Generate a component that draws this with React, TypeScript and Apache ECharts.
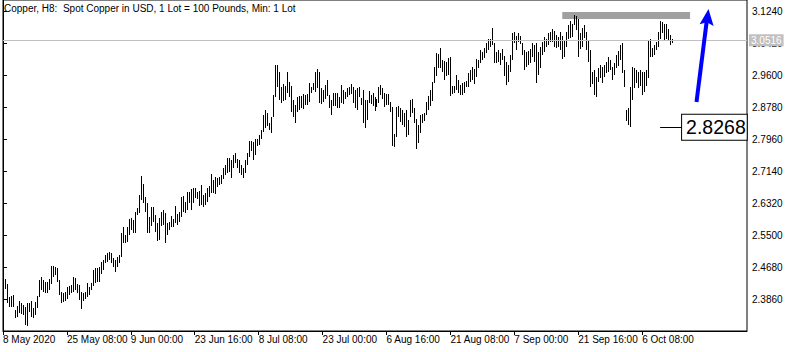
import React, { useEffect, useRef } from "react";
import * as echarts from "echarts";

const FONT = "'Liberation Sans', Arial, sans-serif";

const chartTitle = "Copper, H8:  Spot Copper in USD, 1 Lot = 100 Pounds, Min: 1 Lot";

// time labels, one every 32 H8 bars
const timeLabels = [
  "8 May 2020", "25 May 08:00", "9 Jun 00:00", "23 Jun 16:00", "8 Jul 08:00",
  "23 Jul 00:00", "6 Aug 16:00", "21 Aug 08:00", "7 Sep 00:00", "21 Sep 16:00", "6 Oct 08:00",
];
const barsPerLabel = 32;

const priceTicks = [2.386, 2.468, 2.55, 2.632, 2.714, 2.796, 2.878, 2.96, 3.042, 3.124];

// H8 bar highs
const barHigh = [
  2.4378, 2.4249, 2.3925, 2.3942, 2.3967, 2.3583, 2.3685, 2.3822, 2.3754, 2.3711,
  2.3668, 2.3754, 2.3771, 2.3822, 2.3625, 2.3796, 2.3942, 2.4352, 2.4438, 2.4352,
  2.4309, 2.4309, 2.4386, 2.4711, 2.4711, 2.4677, 2.4651, 2.4352, 2.4053, 2.4027,
  2.4053, 2.4164, 2.4198, 2.4224, 2.4420, 2.4395, 2.4249, 2.4224, 2.4053, 2.4027,
  2.4053, 2.4267, 2.4164, 2.4267, 2.4609, 2.4651, 2.4651, 2.4677, 2.4822, 2.4865,
  2.4993, 2.5053, 2.5079, 2.5053, 2.4908, 2.4865, 2.4951, 2.4993, 2.5566, 2.5720,
  2.5506, 2.5720, 2.5908, 2.5934, 2.5891, 2.6105, 2.6190, 2.6532,
  2.7021, 2.6815, 2.6491, 2.6320, 2.5978, 2.6234, 2.6234, 2.6020, 2.5824, 2.5935,
  2.6106, 2.6149, 2.6063, 2.5807, 2.5849, 2.5995, 2.5926, 2.6251, 2.6046, 2.6097,
  2.6491, 2.6508, 2.6362, 2.6619, 2.6619, 2.6679, 2.6704, 2.6704, 2.6619, 2.6644,
  2.6781, 2.6533, 2.6576, 2.6721, 2.6764, 2.7072, 2.6918, 2.6986, 2.6961, 2.6986,
  2.7046, 2.7217, 2.7303, 2.7474, 2.7474, 2.7431, 2.7559, 2.7602, 2.7448, 2.7431,
  2.7303, 2.7217, 2.7431, 2.7602, 2.7910, 2.7927, 2.7901, 2.7961, 2.7961, 2.8072,
  2.8201, 2.8585, 2.8714, 2.8645, 2.8389, 2.8525, 2.9098, 2.9868, 2.9868, 2.9697,
  2.9295, 2.9380, 2.9329, 2.9697, 2.9440,
  2.9329, 2.8970, 2.8842, 2.9056, 2.9073, 2.9073, 2.9124, 2.9098, 2.9124, 2.9398,
  2.9312, 2.9398, 2.9680, 2.9765, 2.9697, 2.9269, 2.9227, 2.9355, 2.9483, 2.9098,
  2.8970, 2.9158, 2.9158, 2.9141, 2.9056, 2.9355, 2.9227, 2.9184, 2.9269, 2.9312,
  2.9380, 2.9312, 2.9227, 2.9269, 2.9295, 2.9013, 2.9227, 2.8970, 2.8970, 2.9209,
  2.9098, 2.9141, 2.9038, 2.8987, 2.9312, 2.9355, 2.9269, 2.9141, 2.9124, 2.9124,
  2.8927, 2.8799, 2.8098, 2.8799, 2.8816, 2.8756, 2.8714, 2.8628, 2.8714, 2.8457,
  2.8970, 2.8987, 2.8756, 2.8474, 2.8329, 2.8585, 2.8611, 2.8645, 2.8927, 2.9073,
  2.9227, 2.9440, 2.9808, 3.0167, 3.0150,
  3.0295, 2.9996, 2.9979, 2.9953, 3.0039, 3.0064, 2.9329, 2.9329, 2.9611, 2.9483,
  2.9355, 2.9398, 2.9440, 2.9466, 2.9654, 2.9740, 2.9808, 2.9757, 3.0013, 2.9996,
  3.0253, 3.0210, 3.0295, 3.0424, 3.0526, 3.0526, 3.0808, 3.0424, 3.0210, 3.0253,
  3.0167, 3.0270, 3.0099, 2.9953, 2.9868, 3.0124, 3.0680, 3.0723, 3.0612, 3.0697,
  3.0612, 3.0424, 3.0253, 3.0210, 3.0235, 3.0270, 3.0441, 3.0381, 3.0441, 3.0210,
  3.0338, 3.0466, 3.0577, 3.0526, 3.0680, 3.0723, 3.0783, 3.0748, 3.0637, 3.0577,
  3.0723, 3.0612, 3.0509, 3.0723, 3.0894, 3.1005, 3.0919, 3.1150, 3.1125, 3.1039,
  3.0680, 3.0808, 3.0894, 3.0723, 3.0509, 3.0253, 2.9697, 2.9740, 2.9569, 2.9782,
  2.9868, 2.9825, 2.9868, 2.9953, 3.0064, 2.9996, 2.9825, 2.9928, 3.0124, 3.0235,
  3.0381, 3.0424, 2.9740, 2.8714, 2.8756, 2.9312, 2.9825, 2.9782, 2.9740, 2.9697,
  2.9740, 2.9697, 2.9697, 2.9740, 3.0509, 3.0526, 3.0295, 3.0381, 3.0466, 3.0723,
  3.1005, 3.0979, 3.0919, 3.0919, 3.0783, 3.0637, 3.0526,
];

// H8 bar lows
const barLow = [
  2.4113, 2.3754, 2.3668, 2.3668, 2.3668, 2.3369, 2.3412, 2.3497, 2.3480, 2.3454,
  2.3198, 2.3181, 2.3540, 2.3412, 2.3369, 2.3454, 2.3642, 2.3925, 2.4096, 2.4053,
  2.4027, 2.4010, 2.4096, 2.4249, 2.4438, 2.4480, 2.4309, 2.3967, 2.3754, 2.3796,
  2.3822, 2.3856, 2.3967, 2.4010, 2.4053, 2.4096, 2.4010, 2.3839, 2.3600, 2.3822,
  2.3856, 2.3907, 2.3967, 2.4096, 2.4198, 2.4284, 2.4309, 2.4309, 2.4506, 2.4609,
  2.4780, 2.4822, 2.4865, 2.4797, 2.4677, 2.4566, 2.4694, 2.4797, 2.4933, 2.5293,
  2.5310, 2.5335, 2.5506, 2.5635, 2.5566, 2.5549, 2.6019, 2.6062,
  2.6405, 2.6320, 2.6106, 2.5567, 2.5567, 2.5738, 2.5849, 2.5593, 2.5362, 2.5379,
  2.5738, 2.5764, 2.5294, 2.5507, 2.5636, 2.5721, 2.5704, 2.5807, 2.5772, 2.5849,
  2.5978, 2.6106, 2.6063, 2.6149, 2.6320, 2.6149, 2.6337, 2.6448, 2.6422, 2.6251,
  2.6277, 2.6234, 2.6277, 2.6362, 2.6473, 2.6593, 2.6576, 2.6559, 2.6747, 2.6790,
  2.6815, 2.6935, 2.7046, 2.7089, 2.7132, 2.6961, 2.7217, 2.7346, 2.7217, 2.7089,
  2.7046, 2.6961, 2.7106, 2.7303, 2.7517, 2.7670, 2.7431, 2.7559, 2.7790, 2.7816,
  2.7961, 2.8158, 2.8243, 2.8303, 2.8201, 2.8132, 2.8543, 2.9056, 2.9312, 2.8970,
  2.8902, 2.8953, 2.8970, 2.9141, 2.9038,
  2.8671, 2.8525, 2.8389, 2.8671, 2.8714, 2.8756, 2.8731, 2.8842, 2.8842, 2.8927,
  2.9141, 2.9227, 2.9184, 2.9269, 2.8885, 2.8867, 2.8927, 2.8987, 2.9073, 2.8756,
  2.8585, 2.8816, 2.8816, 2.8756, 2.8756, 2.8885, 2.8867, 2.8987, 2.9038, 2.9098,
  2.9124, 2.8902, 2.8756, 2.8714, 2.9056, 2.8842, 2.8389, 2.8243, 2.8457, 2.8902,
  2.8867, 2.8816, 2.8696, 2.8782, 2.8885, 2.9098, 2.8987, 2.8799, 2.8842, 2.8842,
  2.8671, 2.7790, 2.7773, 2.8030, 2.8525, 2.8414, 2.8329, 2.8286, 2.8030, 2.8072,
  2.8525, 2.8645, 2.8372, 2.7705, 2.7859, 2.8115, 2.8389, 2.8440, 2.8585, 2.8714,
  2.8816, 2.8953, 2.9415, 2.9586, 2.9782,
  2.9782, 2.9697, 2.9483, 2.9586, 2.9611, 2.9073, 2.9124, 2.9158, 2.9227, 2.9141,
  2.9098, 2.9098, 2.9158, 2.9295, 2.9295, 2.9440, 2.9483, 2.9380, 2.9551, 2.9782,
  2.9911, 2.9996, 3.0039, 3.0167, 3.0253, 3.0338, 3.0381, 2.9911, 2.9911, 2.9953,
  2.9868, 2.9996, 2.9586, 2.9355, 2.9440, 2.9697, 2.9996, 3.0441, 3.0253, 3.0466,
  3.0406, 3.0124, 2.9740, 2.9825, 2.9868, 2.9911, 3.0064, 2.9953, 2.9398, 2.9611,
  2.9782, 3.0124, 3.0210, 3.0338, 3.0381, 3.0466, 3.0466, 3.0338, 3.0295, 3.0321,
  3.0253, 3.0013, 3.0082, 3.0338, 3.0526, 3.0552, 3.0577, 3.0894, 3.0766, 3.0082,
  3.0270, 3.0321, 3.0552, 3.0253, 2.9953, 2.9295, 2.9380, 2.9098, 2.9056, 2.9440,
  2.9526, 2.9398, 2.9569, 2.9654, 2.9697, 2.9740, 2.9483, 2.9611, 2.9782, 2.9842,
  2.9996, 2.9671, 2.9312, 2.8440, 2.8329, 2.8269, 2.8970, 2.9269, 2.9415, 2.9269,
  2.9329, 2.9098, 2.9184, 2.9329, 2.9526, 3.0082, 3.0082, 3.0124, 3.0253, 3.0338,
  3.0526, 3.0680, 3.0492, 3.0526, 3.0492, 3.0381, 3.0441,
];

const currentPrice = 3.0516;
const markedLow = 2.8268;
// resistance zone (bar positions and prices)
const zoneFrom = 280;
const zoneTo = 344;
const zoneTop = 3.1227;
const zoneBottom = 3.1048;
// marked-low leader line span (bar positions)
const leaderFrom = 329;
const leaderTo = 340;

export default function App() {
  const ref = useRef<HTMLDivElement>(null);

  useEffect(() => {
    if (!ref.current) return;
    const chart = echarts.init(ref.current, null, { renderer: "svg" });

    const bars = barHigh.map((h, i) => [i + 1, barLow[i], h]);
    const xTickValues = timeLabels.map((_, i) => i * barsPerLabel);

    const option: any = {
      animation: false,
      backgroundColor: "#ffffff",
      textStyle: { fontFamily: FONT },
      title: {
        text: chartTitle,
        left: 4,
        top: 3,
        padding: 0,
        textStyle: { fontSize: 10, fontWeight: "normal", color: "#000", fontFamily: FONT },
      },
      grid: {
        left: 2,
        top: 0,
        width: 745,
        height: 331,
        show: true,
        borderColor: "#000",
        borderWidth: 1,
        backgroundColor: "transparent",
      },
      xAxis: {
        type: "value",
        min: 0,
        max: 372.5,
        axisLine: { show: true, lineStyle: { color: "#000", width: 1 } },
        axisTick: { show: true, length: 4, customValues: xTickValues, lineStyle: { color: "#000" } },
        axisLabel: {
          customValues: xTickValues,
          formatter: (v: number) => timeLabels[Math.round(v / barsPerLabel)] ?? "",
          align: "left",
          margin: 3,
          color: "#000",
          fontSize: 10,
          fontFamily: FONT,
        },
        splitLine: { show: false },
      },
      yAxis: {
        type: "value",
        position: "right",
        min: 2.3044,
        max: 3.1535,
        axisLine: { show: true, lineStyle: { color: "#000", width: 1 } },
        axisTick: { show: true, length: 4, customValues: priceTicks, lineStyle: { color: "#000" } },
        axisLabel: {
          customValues: priceTicks,
          formatter: (v: number) => v.toFixed(4),
          margin: 5,
          color: "#000",
          fontSize: 10,
          fontFamily: FONT,
        },
        splitLine: { show: false },
      },
      graphic: [
        {
          type: "line",
          z: 100,
          shape: { x1: 696.5, y1: 102, x2: 706.6, y2: 22 },
          style: { stroke: "#0000ff", lineWidth: 4 },
        },
        {
          type: "polygon",
          z: 100,
          shape: { points: [[708.5, 9], [713.6, 26], [706.9, 22.2], [699.6, 24.2]] },
          style: { fill: "#0000ff" },
        },
      ],
      series: [
        {
          type: "line",
          data: [],
          z: 1,
          silent: true,
          markArea: {
            silent: true,
            itemStyle: { color: "#a0a0a0", opacity: 1 },
            data: [[{ coord: [zoneFrom, zoneTop] }, { coord: [zoneTo, zoneBottom] }]],
          },
          markLine: {
            silent: true,
            symbol: ["none", "none"],
            lineStyle: { color: "#c0c0c0", type: "solid", width: 1 },
            label: {
              show: true,
              position: "end",
              distance: 2,
              formatter: currentPrice.toFixed(4),
              color: "#ffffff",
              backgroundColor: "#c0c0c0",
              padding: [1, 2, 1, 2],
              fontSize: 10,
              fontFamily: FONT,
            },
            data: [{ yAxis: currentPrice }],
          },
        },
        {
          type: "custom",
          z: 3,
          silent: true,
          data: bars,
          encode: { x: 0, y: [1, 2] },
          renderItem: (_params: any, api: any) => {
            const v = api.value(0);
            const pLow = api.coord([v, api.value(1)]);
            const pHigh = api.coord([v, api.value(2)]);
            const x = Math.round(pLow[0]) + 0.5;
            return {
              type: "line",
              shape: { x1: x, y1: Math.round(pLow[1]), x2: x, y2: Math.round(pHigh[1]) },
              style: { stroke: "#000", lineWidth: 1 },
            };
          },
        },
        {
          type: "line",
          data: [],
          z: 5,
          silent: true,
          markLine: {
            silent: true,
            symbol: ["none", "none"],
            lineStyle: { color: "#000", type: "solid", width: 1 },
            label: {
              show: true,
              position: "end",
              distance: 0,
              formatter: markedLow.toFixed(4),
              color: "#000",
              backgroundColor: "#ffffff",
              borderColor: "#000",
              borderWidth: 1,
              padding: [3, 1, 2, 4],
              fontSize: 19.5,
              lineHeight: 20,
              fontFamily: FONT,
            },
            data: [[{ coord: [leaderFrom, markedLow] }, { coord: [leaderTo, markedLow] }]],
          },
        },
      ],
    };

    chart.setOption(option);
    return () => chart.dispose();
  }, []);

  return (
    <div
      ref={ref}
      style={{ position: "fixed", left: 0, top: 0, width: 795, height: 352, background: "#fff" }}
    />
  );
}
